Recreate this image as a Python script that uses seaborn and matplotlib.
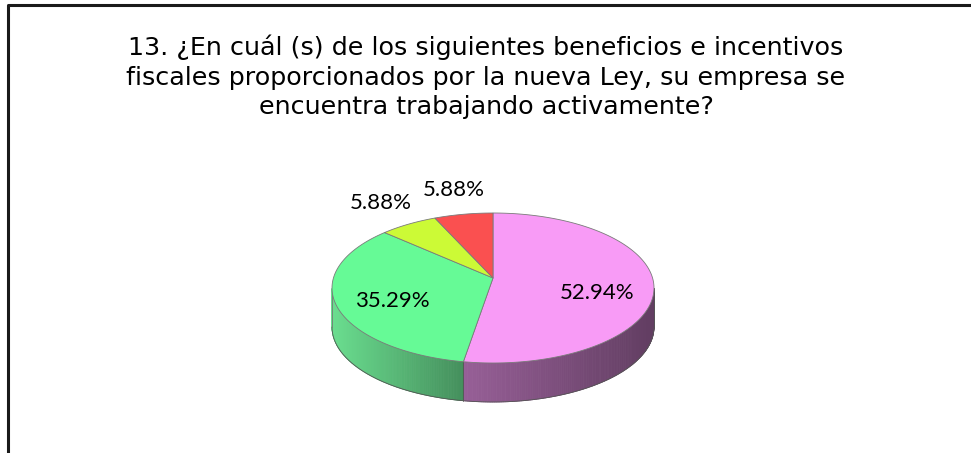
import numpy as np
import matplotlib
matplotlib.use("Agg")
import matplotlib.pyplot as plt
from matplotlib.patches import Polygon
from matplotlib.colors import to_rgb
import seaborn as sns

# ---- data ----
categories = ["A", "B", "C", "D"]
values = [52.94, 35.29, 5.88, 5.88]
labels = ["52.94%", "35.29%", "5.88%", "5.88%"]
top_colors = ["#F89BF6", "#66FA96", "#CCFA36", "#FA5050"]
side_colors = ["#875587", "#5FC680", "#9FC02A", "#C03C3C"]
title = ("13. ¿En cuál (s) de los siguientes beneficios e incentivos\n"
         "fiscales proporcionados por la nueva Ley, su empresa se\n"
         "encuentra trabajando activamente?")

sns.set_theme(style="white")
plt.rcParams['font.family'] = ['DejaVu Sans']

W, H = 971, 453
fig = plt.figure(figsize=(W / 100, H / 100), dpi=100)
ax = fig.add_axes([0, 0, 1, 1])
ax.set_xlim(0, W)
ax.set_ylim(H, 0)
ax.axis("off")

# frame (only left/top visible in reference)
ax.plot([8, 8, W + 5], [H + 5, 5, 5], color="#1a1a1a", lw=2.2, solid_capstyle="butt", zorder=1)

cx, cy = 493, 288
apex_y = 278
a, b = 161, 75
depth = 39

def rim(theta_deg):
    t = np.radians(theta_deg)
    return cx + a * np.cos(t), cy - b * np.sin(t)

fracs = np.array(values) / np.sum(values)
starts = []
ang = 90.0
for f in fracs:
    starts.append((ang, ang - f * 360))
    ang -= f * 360

def shade(c, k):
    r = np.array(to_rgb(c)) * k
    return tuple(np.clip(r, 0, 1))

# sides (front half: sin(theta) < 0)
for (a1, a2), sc in zip(starts, side_colors):
    ts = np.linspace(a1, a2, 240)
    segs = []
    for i in range(len(ts) - 1):
        tm = 0.5 * (ts[i] + ts[i + 1])
        if np.sin(np.radians(tm)) >= 0:
            continue
        segs.append((ts[i], ts[i + 1]))
    if not segs:
        continue
    xall = [rim(s[0])[0] for s in segs] + [rim(s[1])[0] for s in segs]
    xmin, xmax = min(xall), max(xall)
    for t1, t2 in segs:
        x1, y1 = rim(t1)
        x2, y2 = rim(t2)
        u = (0.5 * (x1 + x2) - xmin) / max(xmax - xmin, 1)
        k = 1.12 - 0.4 * u
        col = shade(sc, k)
        ax.add_patch(Polygon([(x1, y1), (x2, y2), (x2, y2 + depth), (x1, y1 + depth)],
                             closed=True, facecolor=col, edgecolor=col, lw=0.6, zorder=2))

# side outline
ts = np.linspace(-180, 0, 300)
xs, ys = rim(ts)
ax.plot(xs, ys + depth, color="#555555", lw=0.6, zorder=3)
ax.plot([cx - a, cx - a], [cy, cy + depth], color="#777777", lw=0.6, zorder=3)
ax.plot([cx + a, cx + a], [cy, cy + depth], color="#555555", lw=0.6, zorder=3)
for a1, a2 in starts:
    if np.sin(np.radians(a1)) < 0:
        x, y = rim(a1)
        ax.plot([x, x], [y, y + depth], color="#555555", lw=0.6, zorder=3)

# top faces
for (a1, a2), tc in zip(starts, top_colors):
    ts = np.linspace(a1, a2, 200)
    xs, ys = rim(ts)
    pts = [(cx, apex_y)] + list(zip(xs, ys))
    ax.add_patch(Polygon(pts, closed=True, facecolor=tc, edgecolor="#7a7a7a",
                         lw=0.6, zorder=4))

# labels
for (a1, a2), lab, f in zip(starts, labels, fracs):
    mid = 0.5 * (a1 + a2)
    t = np.radians(mid)
    r = 0.65 if f > 0.1 else 1.33
    x = cx + a * r * np.cos(t)
    y = cy - b * r * np.sin(t)
    ax.text(x, y, lab, ha="center", va="center", fontsize=16,
            family=["Lato", "DejaVu Sans"], color="black", zorder=5)

ax.text(486, 77, title, ha="center", va="center", fontsize=18.3,
        linespacing=1.28, color="black", zorder=5)

fig.savefig("out.png", dpi=100)
